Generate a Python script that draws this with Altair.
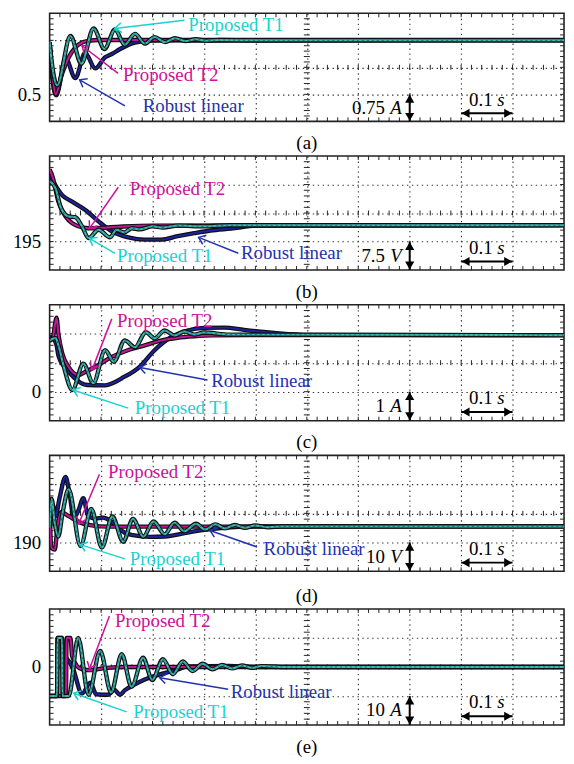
import math
import altair as alt
import pandas as pd

# ---------------- values ----------------
# time in seconds (10 divisions of 0.1 s)
# (a) 0.75 A / div
A_T1_t = [0, 0.005, 0.0148, 0.0405, 0.0617, 0.0854, 0.1066, 0.127, 0.146, 0.166, 0.185, 0.204, 0.224, 0.244, 0.264, 0.284, 0.304, 0.33, 0.4, 0.6, 0.8, 1.0]
A_T1_v = [1.95, 1.3, 0.75, 2.12, 1.35, 2.33, 1.76, 2.30, 1.88, 2.18, 1.91, 2.09, 1.95, 2.06, 1.98, 2.03, 1.99, 2.01, 2.0, 2.0, 2.0, 2.0]
A_T2_t = [0, 0.005, 0.0116, 0.0244, 0.0372, 0.05, 0.063, 0.0757, 0.095, 0.15, 1.0]
A_T2_v = [1.94, 1.1, 0.50, 1.08, 1.53, 1.80, 1.94, 1.985, 2.01, 2.01, 2.01]
A_RL_t = [0, 0.005, 0.0129, 0.031, 0.05, 0.069, 0.0886, 0.108, 0.121, 0.137, 0.166, 0.2, 0.25, 0.3, 1.0]
A_RL_v = [1.9, 1.0, 0.47, 1.5, 0.95, 1.65, 1.22, 1.53, 1.62, 1.76, 1.94, 1.99, 2.0, 1.99, 2.0]

# (b) 7.5 V / div
B_T1_t = [0, 0.0116, 0.021, 0.031, 0.037, 0.05, 0.063, 0.0757, 0.095, 0.1175, 0.130, 0.145, 0.16, 0.175, 0.2, 0.22, 0.25, 0.3, 0.35, 1.0]
B_T1_v = [210.9, 209.0, 204.2, 202.0, 201.6, 201.4, 199.0, 195.9, 198.1, 196.1, 198.1, 197.4, 198.5, 198.2, 199.0, 198.7, 199.2, 199.0, 199.3, 199.3]
B_T2_t = [0, 0.0058, 0.017, 0.031, 0.044, 0.056, 0.075, 0.098, 0.137, 0.2, 1.0]
B_T2_v = [214, 212, 205.5, 201.6, 199.8, 199.0, 198.5, 198.6, 198.9, 199.2, 199.3]
B_RL_t = [0, 0.0245, 0.0437, 0.0694, 0.095, 0.121, 0.153, 0.185, 0.217, 0.249, 0.281, 0.313, 0.352, 0.407, 1.0]
B_RL_v = [212.5, 207.2, 205.5, 203.3, 200.3, 197.7, 196.1, 195.5, 195.5, 196.4, 197.2, 197.9, 198.4, 199.2, 199.3]

# (c) 1 A / div
C_T1_t = [0, 0.0116, 0.017, 0.0276, 0.0443, 0.0655, 0.0848, 0.108, 0.125, 0.146, 0.166, 0.187, 0.204, 0.2235, 0.243, 0.262, 0.281, 0.30, 0.35, 1.0]
C_T1_v = [1.77, 1.85, 1.6, 0.86, 0.06, 0.97, 0.29, 1.43, 1.03, 1.77, 1.53, 2.05, 1.84, 2.11, 1.94, 2.08, 1.97, 2.04, 1.97, 1.95]
C_T2_t = [0, 0.006, 0.0135, 0.017, 0.025, 0.037, 0.046, 0.056, 0.069, 0.089, 0.121, 0.152, 0.185, 0.218, 0.249, 0.281, 0.314, 0.387, 1.0]
C_T2_v = [1.75, 1.85, 2.55, 2.0, 1.3, 0.85, 0.65, 0.57, 0.68, 0.86, 1.20, 1.43, 1.60, 1.77, 1.86, 1.91, 1.94, 1.95, 1.95]
C_RL_t = [0, 0.006, 0.0135, 0.017, 0.027, 0.037, 0.05, 0.064, 0.073, 0.108, 0.123, 0.14, 0.175, 0.204, 0.236, 0.268, 0.30, 0.34, 0.378, 0.441, 0.503, 1.0]
C_RL_v = [1.88, 1.85, 1.6, 1.25, 0.9, 0.69, 0.45, 0.27, 0.23, 0.22, 0.3, 0.46, 0.86, 1.43, 1.88, 2.11, 2.2, 2.21, 2.13, 2.02, 1.96, 1.95]

# (d) 10 V / div
D_T1_t = [0, 0.004, 0.0096, 0.017, 0.025, 0.037, 0.06, 0.081, 0.1015, 0.122, 0.143, 0.162, 0.182, 0.202, 0.2235, 0.243, 0.262, 0.2846, 0.3025, 0.322, 0.341, 0.36, 0.38, 0.399, 0.426, 0.45, 1.0]
D_T1_v = [195, 205, 197, 192, 200, 208.3, 188.7, 201.5, 188.2, 198.9, 190.2, 198.1, 191.9, 197.2, 192.8, 196.8, 193.8, 196.4, 194.4, 196.2, 194.8, 196.0, 195.0, 195.8, 195.2, 195.5, 195.5]
D_T2_t = [0, 0.004, 0.01, 0.015, 0.023, 0.033, 0.044, 0.06, 0.079, 0.098, 0.13, 1.0]
D_T2_v = [200, 188, 187.5, 195, 200.5, 199.5, 198.3, 196.8, 195.9, 195.5, 195.4, 195.5]
D_RL_t = [0, 0.006, 0.0116, 0.019, 0.031, 0.0385, 0.047, 0.056, 0.0655, 0.075, 0.089, 0.104, 0.1175, 0.133, 0.146, 0.162, 0.195, 0.2235, 0.243, 0.281, 0.314, 0.352, 0.407, 1.0]
D_RL_v = [193, 203, 199, 205, 212.6, 207, 198.5, 201, 205.2, 199, 198.2, 198.5, 197.5, 195, 193.3, 192.5, 191.9, 192, 192.5, 193.8, 194.6, 195.2, 195.5, 195.5]

# (e) 10 A / div
E_T1_t = [0, 0.0144, 0.0154, 0.0241, 0.025, 0.0372, 0.0555, 0.0757, 0.0983, 0.1195, 0.1401, 0.1593, 0.1817, 0.1994, 0.2202, 0.2395, 0.2588, 0.278, 0.2973, 0.3166, 0.3353, 0.3545, 0.3738, 0.393, 0.4123, 0.45, 1.0]
E_T1_v = [-10, -10, 10, 10, -10, -10, 10, -9.6, 5.5, -8.8, 4.4, -6.8, 3.2, -4.5, 2.7, -2.5, 1.9, -1.4, 1.1, -0.8, 0.7, -0.5, 0.5, -0.3, 0.3, 0, 0]
E_T2_t = [0, 0.0318, 0.0328, 0.0405, 0.0437, 0.0534, 0.0636, 0.079, 0.1112, 0.15, 1.0]
E_T2_v = [-10, -10, 10, 10, 3.8, 0.3, -0.8, -1.1, -0.3, 0, 0]
E_RL_t = [0, 0.0144, 0.0154, 0.0241, 0.027, 0.0328, 0.0443, 0.063, 0.079, 0.0906, 0.1137, 0.1252, 0.1368, 0.1464, 0.1657, 0.185, 0.21, 0.2428, 0.2717, 0.3487, 0.4066, 1.0]
E_RL_v = [-10, -10, 10, 10, 4, 3, 0, -9.2, -5.4, -9.4, -9.6, -7.8, -9.6, -8, -6, -4.3, -2.8, -1.2, 0.2, 0.4, 0, 0]

# panel settings
TAGS = ["(a)", "(b)", "(c)", "(d)", "(e)"]
VMIN = [-0.25, 187.5, -1.0, 180.0, -20.0]
DIV = [0.75, 7.5, 1.0, 10.0, 10.0]
LABEL_VALUE = [0.5, 195, 0, 190, 0]
LABEL_TEXT = ["0.5", "195", "0", "190", "0"]
SCALE_NUM = ["0.75", "7.5", "1", "10", "10"]
SCALE_UNIT = ["A", "V", "A", "V", "A"]
TIME_DIV = "0.1"

# annotations: (series, text t, text v, arrow start t, start v, arrow tip t, tip v)
NOTES = [
    [("Proposed T1", 0.2697, 2.42, 0.262, 2.56, 0.127, 2.33),
     ("Proposed T2", 0.1426, 1.047, 0.133, 1.083, 0.063, 1.85),
     ("Robust linear", 0.181, 0.182, 0.1464, 0.182, 0.0584, 0.904)],
    [("Proposed T2", 0.156, 208.9, 0.1335, 209.3, 0.0776, 198.46),
     ("Proposed T1", 0.131, 191.15, 0.127, 191.9, 0.0776, 195.85),
     ("Robust linear", 0.372, 191.9, 0.3667, 191.9, 0.2896, 196.1)],
    [("Proposed T2", 0.131, 2.429, 0.1208, 2.511, 0.0823, 0.744),
     ("Robust linear", 0.314, 0.378, 0.307, 0.402, 0.1753, 0.836),
     ("Proposed T1", 0.1657, -0.566, 0.1528, -0.566, 0.0457, 0.06)],
    [("Proposed T2", 0.1137, 214.1, 0.0969, 213.5, 0.0565, 196.4),
     ("Proposed T1", 0.156, 184.3, 0.1464, 184.3, 0.0597, 189.2),
     ("Robust linear", 0.416, 187.8, 0.4033, 188.4, 0.3116, 194.1)],
    [("Proposed T2", 0.127, 15.86, 0.1162, 17.6, 0.0776, -0.59),
     ("Proposed T1", 0.1624, -15.5, 0.1497, -15.5, 0.0468, -9.07),
     ("Robust linear", 0.352, -8.62, 0.347, -7.69, 0.2139, -3.69)],
]

SERIES_DATA = [
    {"Proposed T1": (A_T1_t, A_T1_v), "Proposed T2": (A_T2_t, A_T2_v), "Robust linear": (A_RL_t, A_RL_v)},
    {"Proposed T1": (B_T1_t, B_T1_v), "Proposed T2": (B_T2_t, B_T2_v), "Robust linear": (B_RL_t, B_RL_v)},
    {"Proposed T1": (C_T1_t, C_T1_v), "Proposed T2": (C_T2_t, C_T2_v), "Robust linear": (C_RL_t, C_RL_v)},
    {"Proposed T1": (D_T1_t, D_T1_v), "Proposed T2": (D_T2_t, D_T2_v), "Robust linear": (D_RL_t, D_RL_v)},
    {"Proposed T1": (E_T1_t, E_T1_v), "Proposed T2": (E_T2_t, E_T2_v), "Robust linear": (E_RL_t, E_RL_v)},
]

# ---------------- styling ----------------
W = 519
HEIGHTS = [109, 115, 117, 117, 117]
TITLE_OFFSETS = [12, 12, 12, 15, 12]
SPACING = 0
FONT = "Liberation Serif"
FS = 19
DRAW_ORDER = ["Robust linear", "Proposed T2", "Proposed T1"]
LINE_COLOR = {"Proposed T1": "#36bcb8", "Proposed T2": "#c4169c", "Robust linear": "#1c22a0"}
TEXT_COLOR = {"Proposed T1": "#1ad2d2", "Proposed T2": "#cc1199", "Robust linear": "#2233b0"}
CHEVRON = "M -1 -0.75 L 0 0 L -1 0.75"
GRID_DASH = [1.4, 3.6]


def panel(i):
    H = HEIGHTS[i]
    vmin, div = VMIN[i], DIV[i]
    vmax = vmin + 4 * div
    xs = alt.Scale(domain=[0, 1], nice=False, zero=False)
    ys = alt.Scale(domain=[vmin, vmax], nice=False, zero=False)
    grid_y = [vmin + k * div for k in (1, 2, 3)]
    lv = LABEL_VALUE[i]

    xaxis = alt.Axis(values=[round(0.1 * k, 2) for k in range(1, 10)], grid=True,
                     gridDash=GRID_DASH, gridColor="#333333", gridWidth=1.1,
                     labels=False, ticks=False, domain=False, title=None,
                     minExtent=0, maxExtent=0)
    yaxis = alt.Axis(values=grid_y, grid=True, gridDash=GRID_DASH, gridColor="#333333",
                     gridWidth=1.1, ticks=False, domain=False, title=None,
                     labelExpr=f"abs(datum.value - ({lv})) < 0.000001 ? '{LABEL_TEXT[i]}' : ''",
                     labelFont=FONT, labelFontSize=FS, labelColor="black",
                     labelPadding=9, minExtent=41, maxExtent=41)

    def X(f="t"):
        return alt.X(f"{f}:Q", scale=xs, axis=xaxis)

    def Y(f="v"):
        return alt.Y(f"{f}:Q", scale=ys, axis=yaxis)

    layers = []
    # minor ticks on borders and centre lines (these layers also carry the axes)
    xt = pd.DataFrame({"t": [round(0.02 * k, 4) for k in range(1, 50)]})
    yt = pd.DataFrame({"v": [vmin + div * k / 5 for k in range(1, 20)]})
    tick = dict(color="#222222", strokeWidth=1)
    layers.append(alt.Chart(yt).mark_rule(**tick).encode(y=Y(), x=alt.value(0), x2=alt.value(4)))
    layers.append(alt.Chart(xt).mark_rule(**tick).encode(x=X(), y=alt.value(0), y2=alt.value(4)))
    layers.append(alt.Chart(xt).mark_rule(**tick).encode(x=X(), y=alt.value(H), y2=alt.value(H - 4)))
    layers.append(alt.Chart(xt).mark_rule(**tick).encode(x=X(), y=alt.value(H / 2 - 2.5), y2=alt.value(H / 2 + 2.5)))
    layers.append(alt.Chart(yt).mark_rule(**tick).encode(y=Y(), x=alt.value(W), x2=alt.value(W - 4)))
    layers.append(alt.Chart(yt).mark_rule(**tick).encode(y=Y(), x=alt.value(W / 2 - 3), x2=alt.value(W / 2 + 3)))

    # traces: dark outline, coloured core (T1 also has the dark dotted pattern)
    for s in DRAW_ORDER:
        t, v = SERIES_DATA[i][s]
        df = pd.DataFrame({"t": t, "v": v})
        base = alt.Chart(df)
        layers.append(base.mark_line(color="#101010", strokeWidth=4.4, interpolate="monotone", clip=True)
                      .encode(x=X(), y=Y()))
        layers.append(base.mark_line(color=LINE_COLOR[s], strokeWidth=2.0, interpolate="monotone", clip=True)
                      .encode(x=X(), y=Y()))
        if s == "Proposed T1":
            layers.append(base.mark_line(color="#2f5a5a", strokeWidth=0.9, strokeDash=[2, 3],
                                         interpolate="monotone", clip=True)
                          .encode(x=X(), y=Y()))

    # annotations
    rows = []
    for (s, tt, tv, t0, v0, t1, v1) in NOTES[i]:
        dx = (t1 - t0) * W
        dy = -(v1 - v0) * H / (vmax - vmin)
        ang = math.degrees(math.atan2(dy, dx)) % 360
        rows.append(dict(label=s, tt=tt, tv=tv, t0=t0, v0=v0, t1=t1, v1=v1,
                         color=TEXT_COLOR[s], angle=ang))
    nd = pd.DataFrame(rows)
    col = alt.Color("color:N", scale=None)
    layers.append(alt.Chart(nd).mark_rule(strokeWidth=1.5).encode(
        x=X("t0"), y=Y("v0"), x2="t1:Q", y2="v1:Q", color=col))
    layers.append(alt.Chart(nd).mark_point(shape=CHEVRON, filled=False, size=170, strokeWidth=1.5, opacity=1).encode(
        x=X("t1"), y=Y("v1"), angle=alt.Angle("angle:Q", scale=None), color=col))
    layers.append(alt.Chart(nd).mark_text(align="left", baseline="middle", font=FONT, fontSize=FS).encode(
        x=X("tt"), y=Y("tv"), text="label:N", color=col))

    # vertical scale arrow (one division)
    va = pd.DataFrame({"t": [0.7], "v0": [vmin], "v1": [vmin + div], "vm": [vmin + 0.5 * div],
                       "num": [SCALE_NUM[i]], "unit": [SCALE_UNIT[i]]})
    layers.append(alt.Chart(va).mark_rule(color="black", strokeWidth=2).encode(x=X(), y=Y("v0"), y2="v1:Q"))
    layers.append(alt.Chart(va).mark_point(shape="triangle-up", filled=True, size=85, color="black", opacity=1, yOffset=4.5)
                  .encode(x=X(), y=Y("v1")))
    layers.append(alt.Chart(va).mark_point(shape="triangle-down", filled=True, size=85, color="black", opacity=1, yOffset=-4.5)
                  .encode(x=X(), y=Y("v0")))
    layers.append(alt.Chart(va).mark_text(align="right", baseline="middle", font=FONT, fontSize=FS, dx=-25, color="black")
                  .encode(x=X(), y=Y("vm"), text="num:N"))
    layers.append(alt.Chart(va).mark_text(align="right", baseline="middle", font=FONT, fontSize=FS, fontStyle="italic", dx=-8, color="black")
                  .encode(x=X(), y=Y("vm"), text="unit:N"))

    # horizontal time arrow (one division)
    ha = pd.DataFrame({"t0": [0.8], "t1": [0.9], "tm": [0.85], "v": [vmin + 0.3 * div],
                       "vt": [vmin + 0.78 * div], "num": [TIME_DIV], "unit": ["s"]})
    layers.append(alt.Chart(ha).mark_rule(color="black", strokeWidth=2).encode(x=X("t0"), x2="t1:Q", y=Y()))
    layers.append(alt.Chart(ha).mark_point(shape="triangle-left", filled=True, size=85, color="black", opacity=1, xOffset=4.5)
                  .encode(x=X("t0"), y=Y()))
    layers.append(alt.Chart(ha).mark_point(shape="triangle-right", filled=True, size=85, color="black", opacity=1, xOffset=-4.5)
                  .encode(x=X("t1"), y=Y()))
    layers.append(alt.Chart(ha).mark_text(align="left", baseline="middle", font=FONT, fontSize=FS, dx=-18, color="black")
                  .encode(x=X("tm"), y=Y("vt"), text="num:N"))
    layers.append(alt.Chart(ha).mark_text(align="left", baseline="middle", font=FONT, fontSize=FS, fontStyle="italic", dx=10.5, color="black")
                  .encode(x=X("tm"), y=Y("vt"), text="unit:N"))

    return alt.layer(*layers).properties(
        width=W, height=H,
        title=alt.TitleParams(TAGS[i], orient="bottom", anchor="middle", font=FONT, fontSize=FS,
                              fontWeight="normal", color="black", offset=TITLE_OFFSETS[i]))


chart = alt.vconcat(*[panel(i) for i in range(5)], spacing=SPACING).properties(
    padding={"left": 0, "top": 0, "right": 0, "bottom": 0}
).configure_view(stroke="#222222", strokeWidth=1.6)

chart.save("out.html", embed_options={"renderer": "svg", "actions": False})
